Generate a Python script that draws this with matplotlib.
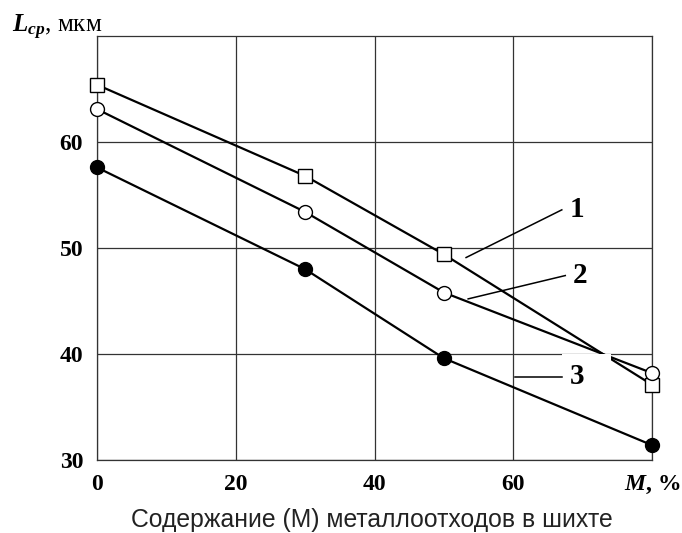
import matplotlib
matplotlib.use("Agg")
import matplotlib.pyplot as plt
from matplotlib.patches import Rectangle

plt.rcParams.update({
    "font.family": ["Liberation Serif", "DejaVu Serif"],
    "mathtext.fontset": "custom",
    "mathtext.it": "Liberation Serif:italic:bold",
    "mathtext.rm": "Liberation Serif:bold",
    "mathtext.bf": "Liberation Serif:bold",
})

# Содержание металлоотходов, %
m = [0, 30, 50, 80]
# Средний размер зерна L_cp, мкм
curve1 = [65.4, 56.8, 49.4, 37.1]   # квадраты
curve2 = [63.1, 53.4, 45.8, 38.2]   # светлые кружки
curve3 = [57.6, 48.0, 39.6, 31.4]   # тёмные кружки

xticks = [0, 20, 40, 60, 80]
xticklabels = ["0", "20", "40", "60", r"$M$, %"]
yticks = [30, 40, 50, 60]

INK = "black"
GRID = "#333333"

fig = plt.figure(figsize=(6.82, 5.33), dpi=100)
ax = fig.add_axes([97 / 682, 1 - 460 / 533, (652 - 97) / 682, (460 - 36) / 533])

ax.plot(m, curve1, "-", color=INK, lw=1.6, marker="s", ms=10,
        mfc="white", mec=INK, mew=1.0, zorder=3, clip_on=False)
ax.plot(m, curve2, "-", color=INK, lw=1.6, marker="o", ms=10,
        mfc="white", mec=INK, mew=1.0, zorder=3, clip_on=False)
ax.plot(m, curve3, "-", color=INK, lw=1.6, marker="o", ms=10,
        mfc=INK, mec=INK, zorder=3, clip_on=False)

ax.set_xlim(0, 80)
ax.set_ylim(30, 70)
ax.set_xticks(xticks, xticklabels)
ax.set_yticks(yticks)
ax.tick_params(length=0, labelsize=17, pad=10)
for lab in ax.get_xticklabels() + ax.get_yticklabels():
    lab.set_fontweight("bold")
ax.grid(color=GRID, lw=0.9)
ax.set_axisbelow(True)
for s in ax.spines.values():
    s.set_color(GRID)
    s.set_linewidth(0.9)
    s.set_zorder(2.5)

# белый прямоугольник на исходном рисунке (закрывает пересечение линий)
ax.add_patch(Rectangle((67.0, 39.1), 7.05, 0.9, facecolor="white",
                       edgecolor="none", zorder=5, clip_on=False))

# выноски с номерами кривых
leaders = [("1", (53.2, 49.1), (67.0, 53.6)),
           ("2", (53.5, 45.2), (67.5, 47.4)),
           ("3", (60.3, 37.85), (67.0, 37.85))]
for num, p0, p1 in leaders:
    ax.plot([p0[0], p1[0]], [p0[1], p1[1]], color=INK, lw=1.1, zorder=3)
    ax.text(p1[0] + 1.1, p1[1], num, fontsize=21, fontweight="bold",
            ha="left", va="center", zorder=6)

fig.text(12 / 682, 1 - 32 / 533, r"$L_{cp}$, мкм", fontsize=18,
         ha="left", va="baseline")
fig.text(372 / 682, 1 - 527 / 533, "Содержание (М) металлоотходов в шихте",
         family="Liberation Sans", fontsize=17.8, ha="center", va="baseline",
         color="#222222")

fig.savefig("out.png", dpi=100)
